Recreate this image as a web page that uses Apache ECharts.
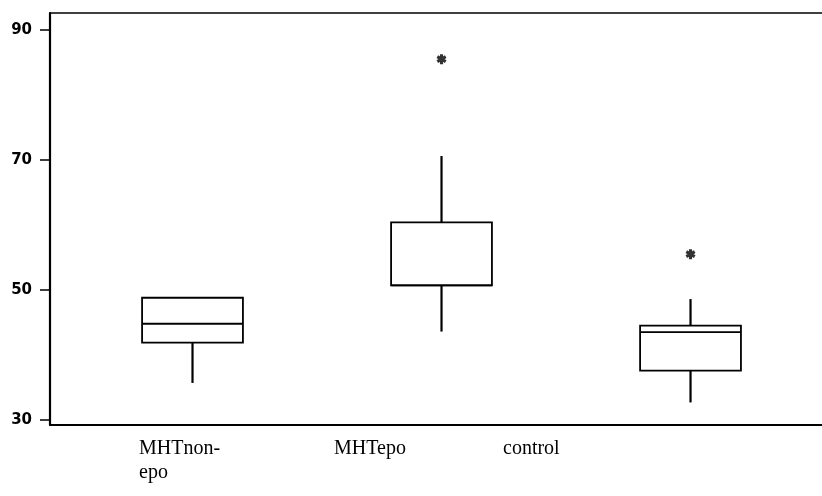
<!DOCTYPE html>
<html>
<head>
<meta charset="utf-8">
<script src="https://cdn.jsdelivr.net/npm/echarts@6/dist/echarts.min.js"></script>
<style>html,body{margin:0;padding:0;background:#fff}#c{width:822px;height:496px}</style>
</head>
<body>
<div id="c"></div>
<script>
// ---- data ----
const categories = ['MHTnon-\nepo', 'MHTepo', 'control'];
const whiskerLow = [35.7, 43.6, 32.7];
const q1 = [41.9, 50.7, 37.6];
const medians = [44.8, 50.7, 43.5];
const q3 = [48.8, 60.4, 44.5];
const whiskerHigh = [48.8, 70.6, 48.6];
const outlierCategory = [1, 2];
const outlierValues = [85.5, 55.5];
const yTicks = [30, 50, 70, 90];

// ---- layout (not data) ----
const labelLeft = [139, 334, 503];
const labelTop = 437;

const boxData = categories.map((c, i) => [i + 1, whiskerLow[i], q1[i], medians[i], q3[i], whiskerHigh[i]]);
const outData = outlierCategory.map((c, i) => [c + 1, outlierValues[i]]);

const asterisk = 'path://M-1.6 -5L1.6 -5L1.6 5L-1.6 5Z M-5.13 -1.12L-3.53 -3.89L5.13 1.12L3.53 3.89Z M3.53 -3.89L5.13 -1.12L-3.53 3.89L-5.13 1.12Z';

const chart = echarts.init(document.getElementById('c'), null, {renderer: 'canvas'});
chart.setOption({
  animation: false,
  backgroundColor: '#fff',
  grid: {left: 50, right: 0, top: 13, bottom: 71},
  xAxis: [{
    type: 'value', min: 0.4277, max: 3.528,
    axisLine: {show: true, onZero: false, lineStyle: {color: '#000', width: 2.2}},
    axisTick: {show: false}, axisLabel: {show: false}, splitLine: {show: false}
  }, {
    type: 'value', position: 'top', min: 0.4277, max: 3.528,
    axisLine: {show: true, onZero: false, lineStyle: {color: '#000', width: 1.5}},
    axisTick: {show: false}, axisLabel: {show: false}, splitLine: {show: false}
  }],
  yAxis: {
    type: 'value', min: 29.23, max: 92.6,
    axisLine: {show: true, onZero: false, lineStyle: {color: '#000', width: 2.2}},
    axisTick: {show: true, length: 10, customValues: yTicks, lineStyle: {color: '#000', width: 1.5}},
    axisLabel: {show: true, customValues: yTicks, margin: 18, color: '#000',
      fontFamily: 'DejaVu Sans', fontWeight: 'bold', fontSize: 15},
    splitLine: {show: false}
  },
  graphic: categories.map((c, i) => ({
    type: 'text', left: labelLeft[i], top: labelTop,
    style: {text: c, fill: '#000', fontFamily: 'Liberation Serif', fontSize: 20, lineHeight: 24}
  })),
  series: [{
    type: 'custom',
    data: boxData,
    encode: {x: 0, y: [1, 2, 3, 4, 5]},
    renderItem: function (params, api) {
      const x = api.value(0);
      const half = api.size([0.405, 0])[0] / 2;
      const pLow = api.coord([x, api.value(1)]);
      const pQ1 = api.coord([x, api.value(2)]);
      const pMed = api.coord([x, api.value(3)]);
      const pQ3 = api.coord([x, api.value(4)]);
      const pHigh = api.coord([x, api.value(5)]);
      const st = {stroke: '#000', lineWidth: 1.8, fill: null};
      return {
        type: 'group',
        children: [
          {type: 'line', shape: {x1: pLow[0], y1: pLow[1], x2: pQ1[0], y2: pQ1[1]}, style: {stroke: '#000', lineWidth: 2.2}},
          {type: 'line', shape: {x1: pQ3[0], y1: pQ3[1], x2: pHigh[0], y2: pHigh[1]}, style: {stroke: '#000', lineWidth: 2.2}},
          {type: 'rect', shape: {x: pQ3[0] - half, y: pQ3[1], width: half * 2, height: pQ1[1] - pQ3[1]}, style: st},
          {type: 'line', shape: {x1: pMed[0] - half, y1: pMed[1], x2: pMed[0] + half, y2: pMed[1]}, style: {stroke: '#000', lineWidth: 1.8}}
        ]
      };
    }
  }, {
    type: 'scatter',
    data: outData,
    symbol: asterisk,
    symbolSize: 10,
    itemStyle: {color: '#000'}
  }]
});
</script>
</body>
</html>
